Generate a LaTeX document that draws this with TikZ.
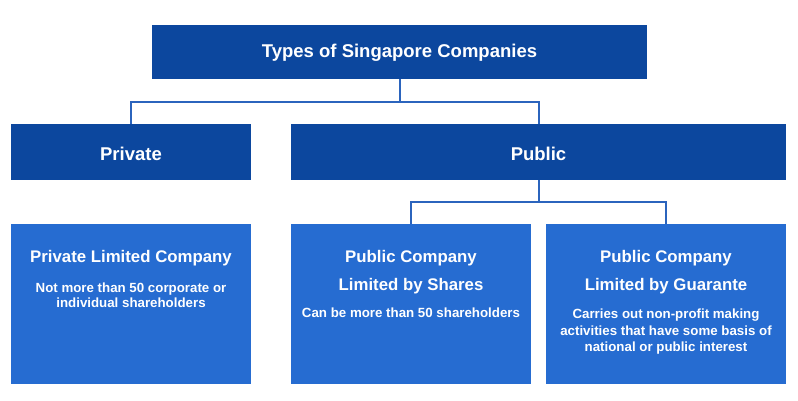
\documentclass[tikz,border=0pt]{standalone}
\usepackage{fontspec}
\setmainfont{Liberation Sans}
\definecolor{darkbox}{HTML}{0C479E}
\definecolor{lightbox}{HTML}{266CD1}
\definecolor{linecol}{HTML}{2B64BD}
\begin{document}
\begin{tikzpicture}[x=1pt,y=-1pt,
  darkrect/.style={fill=darkbox,draw=none,inner sep=0pt,outer sep=0pt},
  lightrect/.style={fill=lightbox,draw=none,inner sep=0pt,outer sep=0pt},
  headtxt/.style={anchor=base,text=white,inner sep=0pt,font=\fontsize{18.5}{22}\selectfont\bfseries},
  titletxt/.style={anchor=base,text=white,inner sep=0pt,font=\fontsize{16.8}{20}\selectfont\bfseries},
  bodytxt/.style={anchor=base,text=white,inner sep=0pt,font=\fontsize{13.3}{16}\selectfont\bfseries},
  conn/.style={draw=linecol,line width=2pt}]
\useasboundingbox (0,0) rectangle (798,400);
\fill[white] (0,0) rectangle (798,400);
% boxes
\node[darkrect,minimum width=495pt,minimum height=54pt] (top) at (399.5,52) {};
\node[darkrect,minimum width=240pt,minimum height=56pt] (priv) at (131,152) {};
\node[darkrect,minimum width=495pt,minimum height=56pt] (pub) at (538.5,152) {};
\node[lightrect,minimum width=240pt,minimum height=160pt] (plc) at (131,304) {};
\node[lightrect,minimum width=240pt,minimum height=160pt] (pls) at (411,304) {};
\node[lightrect,minimum width=240pt,minimum height=160pt] (plg) at (666,304) {};
% connectors
\coordinate (j1) at (399.5,102);
\coordinate (j2) at (538.5,202);
\draw[conn] (top.south) -- (j1) -| (priv.north);
\draw[conn] (j1) -| (pub.north);
\draw[conn] (pub.south) -- (j2);
\draw[conn] (j2) -| ([xshift=0pt]pls.north);
\draw[conn] (j2) -| (plg.north);
% texts
\node[headtxt] (t0) at (399.5,57) {Types of Singapore Companies};
\node[headtxt] (t1) at (131,160) {Private};
\node[headtxt] (t2) at (538.5,160) {Public};
\node[titletxt] (a1) at (131,262) {Private Limited Company};
\node[bodytxt] (a2) at (131,292) {Not more than 50 corporate or};
\node[bodytxt] (a3) at (131,307.5) {individual shareholders};
\node[titletxt] (b1) at (411,262.5) {Public Company};
\node[titletxt] (b2) at (411,290) {Limited by Shares};
\node[bodytxt] (b3) at (411,317) {Can be more than 50 shareholders};
\node[titletxt] (c1) at (666,262.5) {Public Company};
\node[titletxt] (c2) at (666,290) {Limited by Guarante};
\node[bodytxt] (c3) at (666,318.3) {Carries out non-profit making};
\node[bodytxt] (c4) at (666,335) {activities that have some basis of};
\node[bodytxt] (c5) at (666,351.7) {national or public interest};
\end{tikzpicture}
\end{document}
